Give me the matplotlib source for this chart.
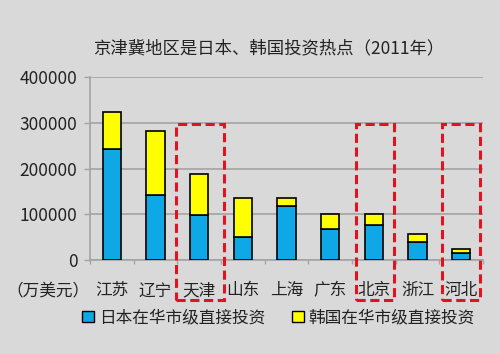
import matplotlib
matplotlib.use("Agg")
import matplotlib.pyplot as plt
from matplotlib.patches import Rectangle, Patch
import numpy as np

plt.rcParams['font.family'] = ['Noto Sans CJK SC', 'DejaVu Sans']

# 数据（万美元）
provinces = ['江苏', '辽宁', '天津', '山东', '上海', '广东', '北京', '浙江', '河北']
japan = [242000, 142000, 98000, 51000, 118000, 68000, 76000, 40000, 14600]
korea = [82000, 141000, 90000, 85000, 18000, 32000, 24000, 17000, 9500]
highlight = ['天津', '北京', '河北']

title = '京津冀地区是日本、韩国投资热点（2011年）'
unit = '（万美元）'
legend_labels = ['日本在华市级直接投资', '韩国在华市级直接投资']

bg = '#d9d9d9'
blue = '#0fa8e6'
yellow = '#ffff00'

fig = plt.figure(figsize=(5.00, 3.54), dpi=100, facecolor=bg)
ax = fig.add_axes([0.18, 0.2655, 0.786, 0.517])
ax.set_facecolor(bg)

x = np.arange(len(provinces))
ax.bar(x, japan, width=0.42, color=blue, edgecolor='black', linewidth=1.2, zorder=3)
ax.bar(x, korea, width=0.42, bottom=japan, color=yellow, edgecolor='black',
       linewidth=1.2, zorder=3)

ax.set_xlim(-0.5, len(provinces) - 0.5)
ax.set_ylim(0, 400000)
ax.set_yticks([0, 100000, 200000, 300000, 400000])
ax.yaxis.grid(True, color='#a3a3a3', linewidth=1.2, zorder=0)
ax.set_axisbelow(True)

for s in ['top', 'right']:
    ax.spines[s].set_visible(False)
for s in ['left', 'bottom']:
    ax.spines[s].set_color('#a3a3a3')
    ax.spines[s].set_linewidth(1.2)

ax.set_xticks(x)
ax.set_xticklabels(provinces, fontsize=12, color='#222222')
ax.tick_params(axis='x', which='major', length=0, pad=16)
ax.set_xticks(np.arange(len(provinces) + 1) - 0.5, minor=True)
ax.tick_params(axis='x', which='minor', length=3, color='#a3a3a3', width=1)
ax.tick_params(axis='y', length=4, color='#a3a3a3', width=1, pad=5,
               labelsize=12.5, labelcolor='#222222')

fig.text(0.537, 0.864, title, ha='center', va='center', fontsize=12.5, color='#222222')
fig.text(0.178, 0.175, unit, ha='right', va='center', fontsize=12, color='#222222')

# 红色虚线框
box_offsets = {'天津': (-0.53, 0.57), '北京': (-0.40, 0.46), '河北': (-0.43, 0.44)}
for name in highlight:
    i = provinces.index(name)
    lo, hi = box_offsets[name]
    rect = Rectangle((i + lo, -87000), hi - lo, 297000 + 87000, fill=False,
                     edgecolor='#e0141e', linewidth=2.2, linestyle=(0, (3, 1.5)),
                     clip_on=False, zorder=5)
    ax.add_patch(rect)

handles = [Patch(facecolor=blue, edgecolor='black', linewidth=1),
           Patch(facecolor=yellow, edgecolor='black', linewidth=1)]
fig.legend(handles, legend_labels, loc='center', bbox_to_anchor=(0.557, 0.102),
           ncol=2, frameon=False, fontsize=12, handlelength=0.7, handleheight=0.7,
           handletextpad=0.3, columnspacing=1.6, labelcolor='#222222')

fig.savefig('out.png', dpi=100, facecolor=bg)
